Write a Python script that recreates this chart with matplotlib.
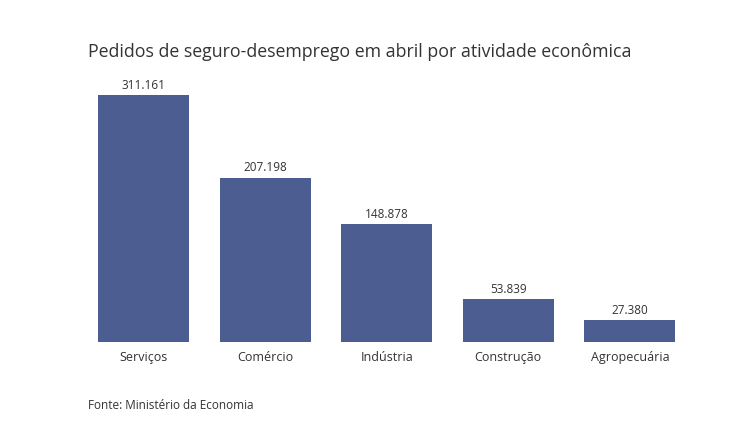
import matplotlib.pyplot as plt

plt.rcParams['font.family'] = ['Open Sans', 'DejaVu Sans']

categorias = ['Serviços', 'Comércio', 'Indústria', 'Construção', 'Agropecuária']
pedidos = [311161, 207198, 148878, 53839, 27380]

cor_barra = '#4c5e91'
cor_texto = '#333333'

fig = plt.figure(figsize=(7.36, 4.35), dpi=100, facecolor='white')
ax = fig.add_axes([0.1124, 0.2115, 0.826, 0.5675])

x = range(len(categorias))
bars = ax.bar(x, pedidos, width=0.75, color=cor_barra)

for b, v in zip(bars, pedidos):
    ax.annotate(f'{v:,}'.replace(',', '.'),
                (b.get_x() + b.get_width() / 2, v),
                xytext=(0, 3), textcoords='offset points',
                ha='center', va='bottom', fontsize=8.5, color=cor_texto)

ax.set_xlim(-0.5, len(categorias) - 0.5)
ax.set_ylim(0, max(pedidos))
ax.set_xticks(list(x))
ax.set_xticklabels(categorias, fontsize=9, color=cor_texto)
ax.tick_params(axis='x', length=0, pad=6)
ax.set_yticks([])
for s in ax.spines.values():
    s.set_visible(False)

fig.text(88 / 736, 1 - 52 / 435, 'Pedidos de seguro-desemprego em abril por atividade econômica',
         fontsize=12.8, color=cor_texto, ha='left', va='center')
fig.text(88 / 736, 1 - 406 / 435, 'Fonte: Ministério da Economia',
         fontsize=8.5, color=cor_texto, ha='left', va='center')

fig.savefig('out.png', dpi=100, facecolor='white')
